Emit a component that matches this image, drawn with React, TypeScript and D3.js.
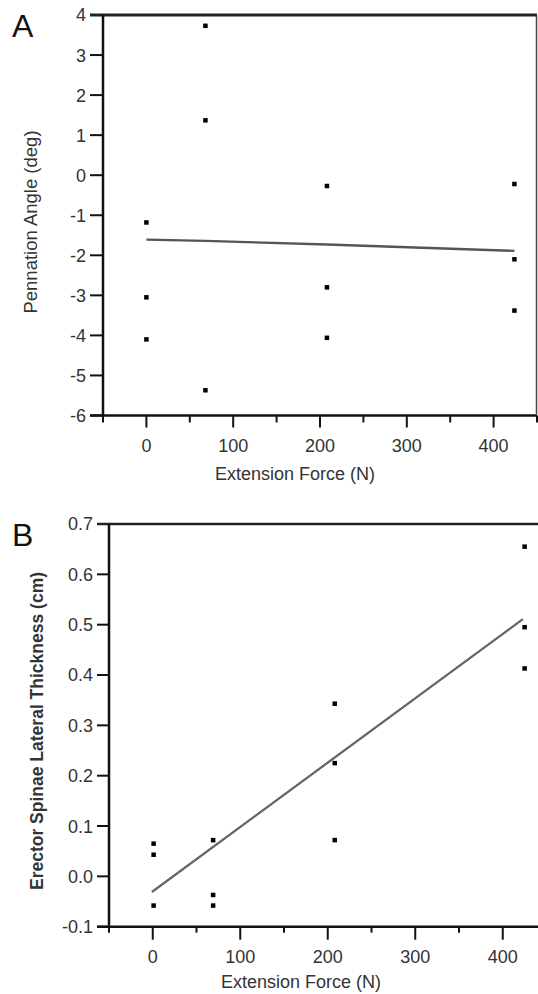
import * as d3 from 'd3'

// Panel A: pennation angle vs extension force
const forceA = [0, 0, 0, 68, 68, 68, 208, 208, 208, 424, 424, 424]
const angleA = [-1.18, -3.05, -4.1, 3.73, 1.37, -5.37, -0.27, -2.8, -4.06, -0.22, -2.1, -3.38]
const fitForceA = [0, 68, 208, 424]
const fitAngleA = [-1.61, -1.64, -1.73, -1.89]

// Panel B: erector spinae lateral thickness vs extension force
const forceB = [1, 1, 1, 69, 69, 69, 208, 208, 208, 425, 425, 425]
const thickB = [0.065, 0.043, -0.058, 0.072, -0.037, -0.058, 0.343, 0.225, 0.072, 0.655, 0.495, 0.413]
const fitForceB = [-1, 423]
const fitThickB = [-0.031, 0.511]

const ticksAY = [4, 3, 2, 1, 0, -1, -2, -3, -4, -5, -6]
const ticksBY = [0.7, 0.6, 0.5, 0.4, 0.3, 0.2, 0.1, 0.0, -0.1]
const majorX = [0, 100, 200, 300, 400]
const minorX = [-50, 50, 150, 250, 350, 450]

const FONT = '"Liberation Sans", Arial, sans-serif'
const TXT = '#333'

function Panel({ letter, xs, ys, fx, fy, yTicks, yFmt, xRange, yDomain, yRange, yLabel, yLabelBold,
  yLabelX, yLabelY, xLabelX, xLabelY, tickLabelY, letterY, tickLeft, topWidth, rightBorder, lineColor, majorLen, minorLen }) {
  const x = d3.scaleLinear().domain([-50, 450]).range(xRange)
  const y = d3.scaleLinear().domain(yDomain).range(yRange)
  const [x0, x1] = xRange
  const yBottom = y(yDomain[0])
  const yTop = y(yDomain[1])
  const line = d3.line<number>().x((d, i) => x(fx[i])).y((d, i) => y(fy[i]))

  return (
    <g>
      <text x={12} y={letterY} fontSize={32} fontFamily={FONT} fill="#111">{letter}</text>

      {/* y ticks */}
      {yTicks.map(t => (
        <g key={'y' + t}>
          <line x1={tickLeft} x2={x0} y1={y(t)} y2={y(t)} stroke="#111" strokeWidth={2} />
          <text x={tickLeft - 4} y={y(t)} dy="0.36em" textAnchor="end" fontSize={18} fontFamily={FONT} fill={TXT}>{yFmt(t)}</text>
        </g>
      ))}

      {/* x ticks */}
      {majorX.map(t => (
        <g key={'x' + t}>
          <line x1={x(t)} x2={x(t)} y1={yBottom} y2={yBottom + majorLen} stroke="#111" strokeWidth={2} />
          <text x={x(t)} y={tickLabelY} textAnchor="middle" fontSize={18} fontFamily={FONT} fill={TXT}>{t}</text>
        </g>
      ))}
      {minorX.map(t => (
        <line key={'m' + t} x1={x(t)} x2={x(t)} y1={yBottom} y2={yBottom + minorLen} stroke="#111" strokeWidth={2} />
      ))}

      {/* frame */}
      <line x1={tickLeft} x2={Math.min(x1, 538)} y1={yTop} y2={yTop} stroke="#222" strokeWidth={topWidth} />
      <line x1={x0} x2={x0} y1={yTop} y2={yBottom} stroke="#111" strokeWidth={2.5} />
      <line x1={tickLeft} x2={Math.min(x1, 538)} y1={yBottom} y2={yBottom} stroke="#111" strokeWidth={2.5} />
      {rightBorder && <line x1={x1 - 0.5} x2={x1 - 0.5} y1={yTop} y2={yBottom} stroke="#444" strokeWidth={1.5} />}

      {/* fit line */}
      <path d={line(fx) || ''} fill="none" stroke={lineColor} strokeWidth={2.3} />

      {/* points */}
      {xs.map((v, i) => (
        <rect key={i} x={x(v) - 2.25} y={y(ys[i]) - 2.25} width={4.5} height={4.5} fill="#000" />
      ))}

      <text x={xLabelX} y={xLabelY} textAnchor="middle" fontSize={18} fontFamily={FONT} fill={TXT}>Extension Force (N)</text>
      <text transform={`translate(${yLabelX},${yLabelY}) rotate(-90)`} textAnchor="middle" fontSize={yLabelBold ? 17.5 : 18.5}
        fontWeight={yLabelBold ? 'bold' : 'normal'} fontFamily={FONT} fill={TXT}>{yLabel}</text>
    </g>
  )
}

export default function App() {
  return (
    <svg width={538} height={994} style={{ position: 'absolute', left: 0, top: 0, background: '#fff' }}>
      <rect width={538} height={994} fill="#fff" />
      <Panel letter="A" xs={forceA} ys={angleA} fx={fitForceA} fy={fitAngleA}
        yTicks={ticksAY} yFmt={d => String(d)} xRange={[103, 537]} yDomain={[-6, 4]} yRange={[415.5, 15]}
        yLabel="Pennation Angle (deg)" yLabelBold={false} yLabelX={37} yLabelY={222}
        xLabelX={295} xLabelY={480} tickLabelY={451.5} letterY={37} tickLeft={90}
        topWidth={3} rightBorder={true} lineColor="#555" majorLen={12} minorLen={7} />
      <Panel letter="B" xs={forceB} ys={thickB} fx={fitForceB} fy={fitThickB}
        yTicks={ticksBY} yFmt={d => d.toFixed(1)} xRange={[109, 546.5]} yDomain={[-0.1, 0.7]} yRange={[926.7, 524]}
        yLabel="Erector Spinae Lateral Thickness (cm)" yLabelBold={true} yLabelX={43} yLabelY={731}
        xLabelX={301} xLabelY={988} tickLabelY={962.5} letterY={546} tickLeft={97}
        topWidth={2.5} rightBorder={false} lineColor="#666" majorLen={13} minorLen={6} />
    </svg>
  )
}
